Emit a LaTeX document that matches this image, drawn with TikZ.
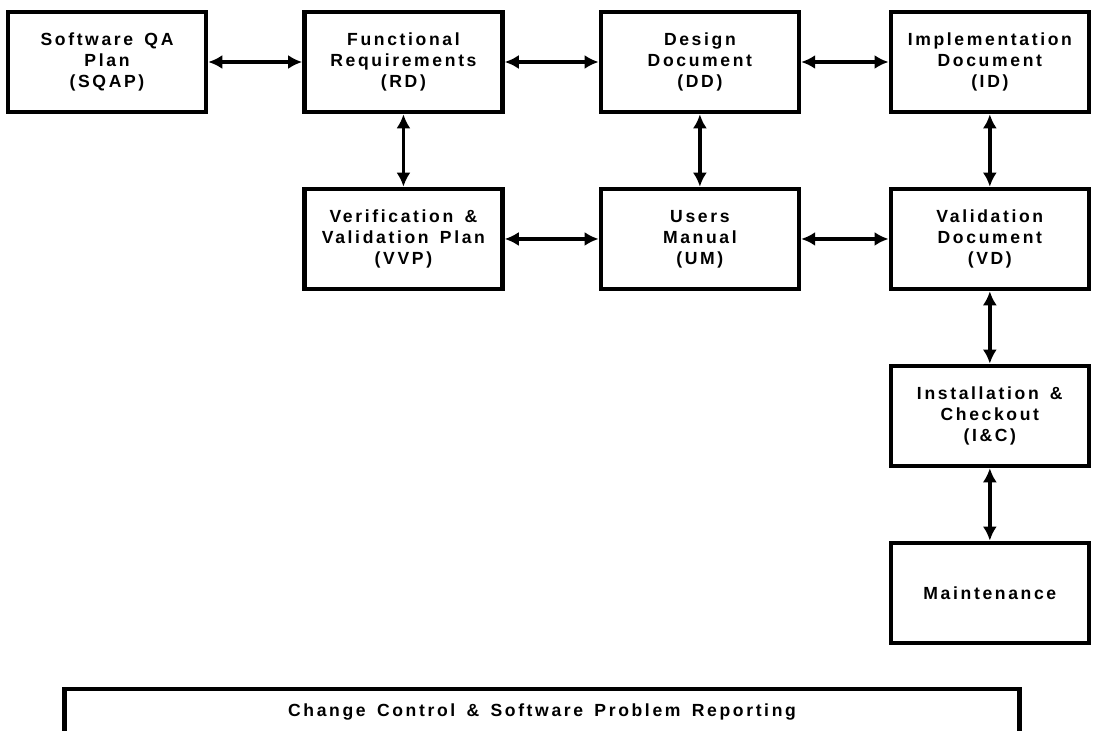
\documentclass[tikz,border=0pt]{standalone}
\usepackage{fontspec}
\setmainfont{Liberation Sans}[LetterSpace=15,WordSpace=1.5]
\usetikzlibrary{shapes,arrows,arrows.meta}

\begin{document}
\begin{tikzpicture}[>={Latex[length=8pt,width=8pt]},node distance=5.93cm,auto,x=0.02cm,y=-0.02cm]
        \clip (0,0) rectangle (1097,730);
        % Define block styles
        \tikzstyle{block} = [rectangle, draw, line width=2.6pt, align=center, minimum width=3.96cm, minimum height=2cm, font=\bfseries]
        \tikzstyle{bar} = [rectangle, draw, line width=2.6pt, minimum width=19.1cm, minimum height=0.92cm, font=\bfseries]
        \tikzstyle{line} = [draw, <->, line width=2pt]

        % Nodes
        \node [block] (sqap) at (107,62) {Software QA\\Plan\\(SQAP)};
        \node [block, right of=sqap] (rd) {Functional\\Requirements\\(RD)};
        \node [block, right of=rd] (dd) {Design\\Document\\(DD)};
        \node [block, right of=dd, node distance=5.8cm] (id) {Implementation\\Document\\(ID)};
        \node [block, below of=rd, node distance=3.54cm] (vvp) {Verification \&\\Validation Plan\\(VVP)};
        \node [block, below of=dd, node distance=3.54cm] (um) {Users\\Manual\\(UM)};
        \node [block, below of=id, node distance=3.54cm] (vd) {Validation\\Document\\(VD)};
        \node [block, below of=vd, node distance=3.54cm] (ic) {Installation \&\\Checkout\\(I\&C)};
        \node [block, below of=ic, node distance=3.54cm] (maint) {Maintenance};
        \node [bar] (ccspr) at (542,712) {Change Control \& Software Problem Reporting};

        % Arrows
        \path [line] (sqap) -- (rd);
        \path [line] (rd) -- (dd);
        \path [line] (dd) -- (id);
        \path [line] (rd) -- (vvp);
        \path [line] (dd) -- (um);
        \path [line] (id) -- (vd);
        \path [line] (vvp) -- (um);
        \path [line] (um) -- (vd);
        \path [line] (vd) -- (ic);
        \path [line] (ic) -- (maint);

    \end{tikzpicture}
\end{document}
